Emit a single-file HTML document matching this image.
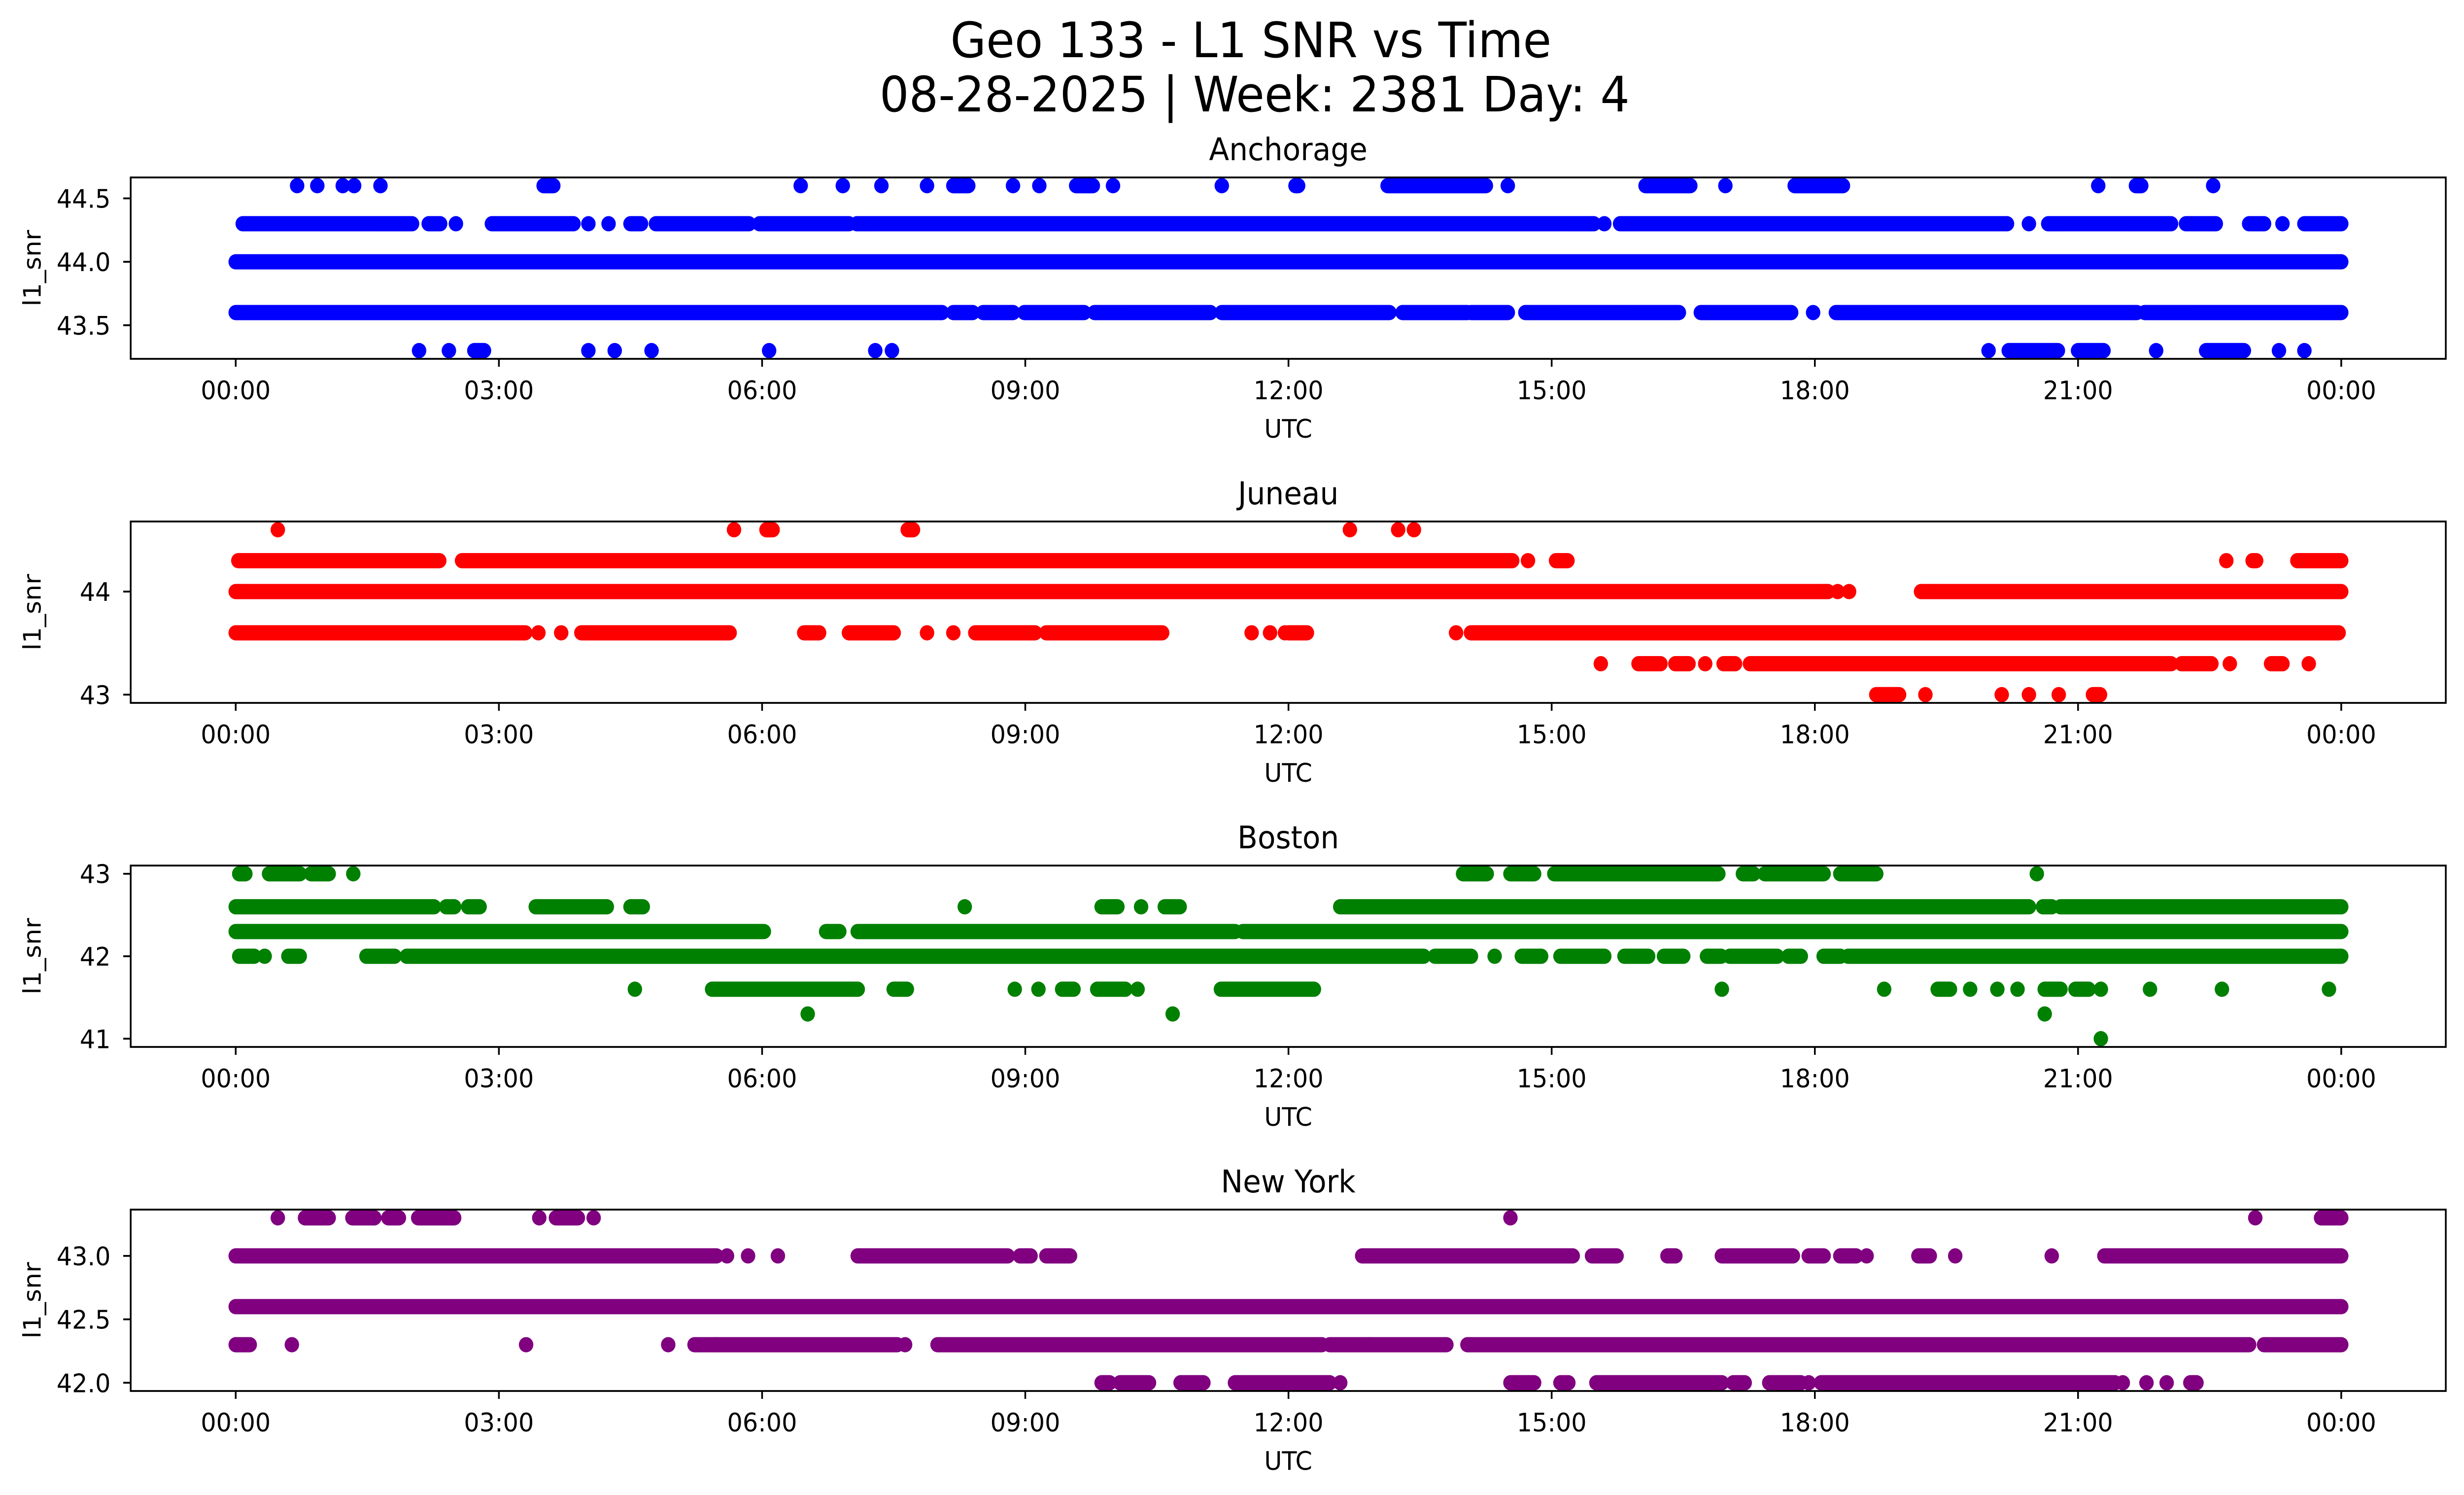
<!DOCTYPE html>
<html><head><meta charset="utf-8"><style>
html,body{margin:0;padding:0;background:#fff;overflow:hidden;width:100%;height:100%;}
svg{display:block;width:100vw;height:100vh;font-family:"DejaVu Sans","Liberation Sans",sans-serif;}
</style></head><body>
<svg id="fig" viewBox="0 0 5279 3033" preserveAspectRatio="none" xmlns="http://www.w3.org/2000/svg">
<rect width="5279" height="3033" fill="#fff"/>
<text x="2680" y="116" font-size="99" text-anchor="middle">Geo 133 - L1 SNR vs Time</text>
<text x="2688" y="226" font-size="99" text-anchor="middle">08-28-2025 | Week: 2381 Day: 4</text>
</svg>
<script>
// Time tick labels (hours)
const xTickHours = [0,3,6,9,12,15,18,21,24];
const xTickLabels = ["00:00","03:00","06:00","09:00","12:00","15:00","18:00","21:00","00:00"];

// Anchorage: levels and runs [startHour, endHour] per level
const anchorageLevels = [44.6,44.3,44.0,43.6,43.3];
const anchorageRuns = [
 [[0.70,0.70],[0.93,0.93],[1.22,1.22],[1.35,1.35],[1.65,1.65],[3.51,3.62],[6.44,6.44],[6.92,6.92],[7.36,7.36],[7.88,7.88],[8.18,8.35],[8.86,8.86],[9.16,9.16],[9.58,9.77],[10.0,10.0],[11.24,11.24],[12.08,12.11],[13.13,14.25],[14.5,14.5],[16.07,16.58],[16.98,16.98],[17.77,18.32],[21.23,21.23],[21.66,21.72],[22.54,22.54]],
 [[0.08,2.01],[2.2,2.33],[2.51,2.51],[2.92,3.85],[4.02,4.02],[4.25,4.25],[4.5,4.62],[4.79,5.85],[5.97,6.99],[7.08,15.48],[15.6,15.6],[15.78,20.19],[20.44,20.44],[20.66,22.06],[22.23,22.57],[22.95,23.12],[23.33,23.33],[23.58,24.0]],
 [[0,24]],
 [[0,8.05],[8.18,8.4],[8.52,8.86],[8.99,9.67],[9.79,11.11],[11.24,13.15],[13.3,14.04],[14.08,14.5],[14.7,16.45],[16.7,17.73],[17.98,17.98],[18.24,21.67],[21.76,24.0]],
 [[2.09,2.09],[2.43,2.43],[2.72,2.83],[4.02,4.02],[4.32,4.32],[4.74,4.74],[6.08,6.08],[7.29,7.29],[7.48,7.48],[19.98,19.98],[20.21,20.77],[21.0,21.29],[21.89,21.89],[22.46,22.89],[23.29,23.29],[23.58,23.58]]
];

const juneauLevels = [44.6,44.3,44.0,43.6,43.3,43.0];
const juneauRuns = [
 [[0.48,0.48],[5.68,5.68],[6.05,6.12],[7.66,7.72],[12.7,12.7],[13.25,13.25],[13.43,13.43]],
 [[0.03,2.32],[2.58,14.55],[14.73,14.73],[15.05,15.18],[22.69,22.69],[22.99,23.03],[23.5,24.0]],
 [[0,18.15],[18.26,18.26],[18.39,18.39],[19.21,24.0]],
 [[0,3.3],[3.45,3.45],[3.71,3.71],[3.94,5.63],[6.48,6.65],[6.99,7.5],[7.88,7.88],[8.18,8.18],[8.43,9.11],[9.24,10.56],[11.58,11.58],[11.79,11.79],[11.96,11.96],[12.0,12.21],[13.91,13.91],[14.08,23.97]],
 [[15.56,15.56],[15.99,16.24],[16.41,16.56],[16.75,16.75],[16.96,17.09],[17.26,22.06],[22.18,22.52],[22.73,22.73],[23.2,23.33],[23.63,23.63]],
 [[18.7,18.96],[19.26,19.26],[20.13,20.13],[20.44,20.44],[20.78,20.78],[21.17,21.25]]
];

const bostonLevels = [43.0,42.6,42.3,42.0,41.6,41.3,41.0];
const bostonRuns = [
 [[0.04,0.11],[0.38,0.73],[0.86,1.06],[1.34,1.34],[13.99,14.26],[14.53,14.8],[15.03,16.9],[17.18,17.3],[17.43,18.1],[18.29,18.7],[20.53,20.53]],
 [[0,2.26],[2.4,2.49],[2.65,2.78],[3.42,4.23],[4.5,4.64],[8.31,8.31],[9.87,10.05],[10.32,10.32],[10.59,10.76],[12.59,20.44],[20.6,20.7],[20.8,24.0]],
 [[0,6.02],[6.73,6.88],[7.09,11.39],[11.48,24.0]],
 [[0.04,0.21],[0.33,0.33],[0.6,0.73],[1.49,1.81],[1.95,13.54],[13.67,14.08],[14.35,14.35],[14.66,14.88],[15.1,15.6],[15.83,16.1],[16.28,16.5],[16.77,16.93],[17.03,17.57],[17.7,17.84],[18.1,18.29],[18.38,24.0]],
 [[4.55,4.55],[5.43,7.09],[7.5,7.65],[8.88,8.88],[9.15,9.15],[9.42,9.55],[9.82,10.14],[10.28,10.28],[11.23,12.29],[16.94,16.94],[18.79,18.79],[19.4,19.54],[19.77,19.77],[20.08,20.08],[20.31,20.31],[20.62,20.8],[20.97,21.12],[21.26,21.26],[21.82,21.82],[22.64,22.64],[23.86,23.86]],
 [[6.52,6.52],[10.68,10.68],[20.62,20.62]],
 [[21.26,21.26]]
];

const newYorkLevels = [43.3,43.0,42.6,42.3,42.0];
const newYorkRuns = [
 [[0.48,0.48],[0.79,1.06],[1.33,1.58],[1.74,1.86],[2.08,2.49],[3.46,3.46],[3.65,3.9],[4.08,4.08],[14.53,14.53],[23.02,23.02],[23.77,24.0]],
 [[0,5.48],[5.6,5.6],[5.84,5.84],[6.18,6.18],[7.09,8.8],[8.94,9.06],[9.24,9.51],[12.84,15.24],[15.46,15.74],[16.32,16.41],[16.94,17.75],[17.93,18.1],[18.29,18.47],[18.59,18.59],[19.18,19.31],[19.6,19.6],[20.7,20.7],[21.3,24.0]],
 [[0,24]],
 [[0,0.16],[0.64,0.64],[3.31,3.31],[4.93,4.93],[5.23,5.48],[5.48,7.54],[7.63,7.63],[8.0,12.38],[12.47,12.91],[12.91,13.8],[14.04,22.95],[23.12,24.0]],
 [[9.87,9.96],[10.08,10.41],[10.77,11.03],[11.39,12.47],[12.59,12.59],[14.53,14.8],[15.1,15.19],[15.51,16.94],[17.07,17.2],[17.48,17.84],[17.93,17.93],[18.07,21.42],[21.51,21.51],[21.78,21.78],[22.01,22.01],[22.28,22.35]]
];

const panelTitles = ["Anchorage","Juneau","Boston","New York"];
const panelColors = ["#0000ff","#ff0000","#008000","#800080"];
const panelYLims = [[43.235,44.665],[42.92,44.68],[40.9,43.1],[41.935,43.365]];
const anchorageYTicks = ["44.5","44.0","43.5"];
const juneauYTicks = ["44","43"];
const bostonYTicks = ["43","42","41"];
const newYorkYTicks = ["43.0","42.5","42.0"];

const NS = "http://www.w3.org/2000/svg";
const fig = document.getElementById('fig');
const AX_L = 280, AX_R = 5240, AX_H = 368;
const panelTops = [360, 1058, 1756, 2454];
function xScale(h){ return 505 + h * (4511/24); }
function mk(tag, attrs, parent){ const e=document.createElementNS(NS,tag); for(const k in attrs) e.setAttribute(k,attrs[k]); (parent||fig).appendChild(e); return e; }

const allLevels=[anchorageLevels,juneauLevels,bostonLevels,newYorkLevels];
const allRuns=[anchorageRuns,juneauRuns,bostonRuns,newYorkRuns];
const allYTicks=[anchorageYTicks,juneauYTicks,bostonYTicks,newYorkYTicks];
const slugs=["anchorage","juneau","boston","new-york"];

for(let p=0;p<4;p++){
  const top=panelTops[p], bot=top+AX_H;
  const [y0,y1]=panelYLims[p];
  const yScale=v=> bot - (v-y0)/(y1-y0)*AX_H;
  const g=mk('g',{});
  
  
  const t=mk('text',{x:(AX_L+AX_R)/2,y:top-35,'font-size':63,'text-anchor':'middle'},g);
  t.textContent=panelTitles[p];
  
  
  const sg=mk('g',{fill:panelColors[p],stroke:panelColors[p]},g);
  
  
  allLevels[p].forEach((lv,i)=>{
    allRuns[p][i].forEach(r=>{
      const y=yScale(lv);
      let m;
      if(r[1]-r[0]<0.001){ m=mk('circle',{cx:xScale(r[0]),cy:y,r:15.5,stroke:'none'},sg); }
      else { m=mk('line',{x1:xScale(r[0]),x2:xScale(r[1]),y1:y,y2:y,'stroke-width':31,'stroke-linecap':'round'},sg); }
      
      
    });
  });
  const fr=mk('rect',{x:AX_L,y:top,width:AX_R-AX_L,height:AX_H,fill:'none',stroke:'#000','stroke-width':3.7},g);
  
  
  xTickHours.forEach((h,i)=>{
    const x=xScale(h);
    const tk=mk('line',{x1:x,x2:x,y1:bot,y2:bot+16,stroke:'#000','stroke-width':3.7},g);
    
    
    const tl=mk('text',{x:x,y:bot+82,'font-size':52,'text-anchor':'middle'},g);
    tl.textContent=xTickLabels[i];
    
    
  });
  const xl=mk('text',{x:(AX_L+AX_R)/2,y:bot+160,'font-size':52,'text-anchor':'middle'},g);
  xl.textContent='UTC';
  
  
  allYTicks[p].forEach(s=>{
    const y=yScale(parseFloat(s));
    const tk=mk('line',{x1:AX_L-16,x2:AX_L,y1:y,y2:y,stroke:'#000','stroke-width':3.7},g);
    
    
    const tl=mk('text',{x:237,y:y+19,'font-size':52,'text-anchor':'end'},g);
    tl.textContent=s;
    
    
  });
  const cy=top+AX_H/2;
  const yl=mk('text',{x:0,y:0,'font-size':52,'text-anchor':'middle',transform:`translate(87,${cy}) rotate(-90)`},g);
  yl.textContent='l1_snr';
  
  
}
</script>
</body></html>
